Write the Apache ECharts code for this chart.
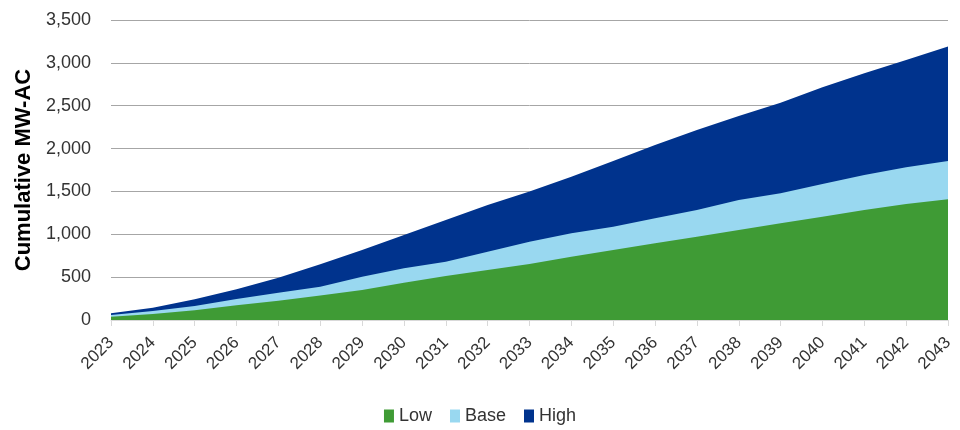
<!DOCTYPE html>
<html>
<head>
<meta charset="utf-8">
<script src="https://cdn.jsdelivr.net/npm/echarts@6/dist/echarts.min.js"></script>
<style>
  html, body { margin: 0; padding: 0; background: #ffffff; }
  #chart { width: 960px; height: 430px; }
</style>
</head>
<body>
<div id="chart"></div>
<script>
// Cumulative installed capacity scenarios (MW-AC), 2023–2043
const years = ['2023','2024','2025','2026','2027','2028','2029','2030','2031','2032','2033',
               '2034','2035','2036','2037','2038','2039','2040','2041','2042','2043'];
const lowValues  = [39, 70, 113, 171, 226, 285, 350, 436, 513, 583, 653,
                    739, 817, 895, 972, 1050, 1128, 1206, 1284, 1354, 1410];
const baseValues = [58, 105, 163, 245, 319, 389, 506, 603, 681, 797, 914,
                    1011, 1089, 1186, 1284, 1400, 1478, 1587, 1692, 1782, 1855];
const highValues = [78, 144, 241, 358, 494, 650, 817, 992, 1167, 1342, 1498,
                    1672, 1855, 2042, 2217, 2380, 2536, 2715, 2878, 3034, 3190];

const COLORS = { Low: '#3f9b35', Base: '#99d8f0', High: '#00338d' };
const FONT = 'Liberation Sans';
const TEXT = '#333333';

function areaSeries(name, data, z) {
  return {
    name: name,
    type: 'line',
    data: data,
    z: z,
    symbol: 'none',
    lineStyle: { width: 0 },
    areaStyle: { color: COLORS[name], opacity: 1 },
    itemStyle: { color: COLORS[name] },
    emphasis: { disabled: true }
  };
}

const chart = echarts.init(document.getElementById('chart'), null, { renderer: 'canvas' });
chart.setOption({
  animation: false,
  backgroundColor: '#ffffff',
  grid: { left: 111, right: 12, top: 20, bottom: 110, containLabel: false },
  legend: {
    data: ['Low', 'Base', 'High'],
    bottom: 0,
    left: 'center',
    itemWidth: 10,
    itemHeight: 13,
    itemGap: 18,
    icon: 'rect',
    textStyle: { fontFamily: FONT, fontSize: 18, color: TEXT }
  },
  xAxis: {
    type: 'category',
    data: years,
    boundaryGap: false,
    axisLine: { show: true, lineStyle: { color: '#d9d9d9', width: 1 } },
    axisTick: { show: true, length: 6, lineStyle: { color: '#d9d9d9' } },
    axisLabel: {
      rotate: 45,
      margin: 20,
      fontFamily: FONT,
      fontSize: 17,
      color: TEXT,
      interval: 0
    },
    splitLine: { show: false }
  },
  yAxis: {
    type: 'value',
    min: 0,
    max: 3500,
    interval: 500,
    name: 'Cumulative MW-AC',
    nameLocation: 'middle',
    nameGap: 76,
    nameRotate: 90,
    nameTextStyle: { fontFamily: FONT, fontSize: 22, fontWeight: 'bold', color: '#000000' },
    axisLine: { show: false },
    axisTick: { show: false },
    axisLabel: {
      margin: 20,
      fontFamily: FONT,
      fontSize: 18,
      color: TEXT,
      formatter: v => v.toLocaleString('en-US')
    },
    splitLine: { show: true, lineStyle: { color: '#a6a6a6', width: 1 } }
  },
  series: [
    areaSeries('High', highValues, 1),
    areaSeries('Base', baseValues, 2),
    areaSeries('Low', lowValues, 3)
  ]
});
</script>
</body>
</html>
